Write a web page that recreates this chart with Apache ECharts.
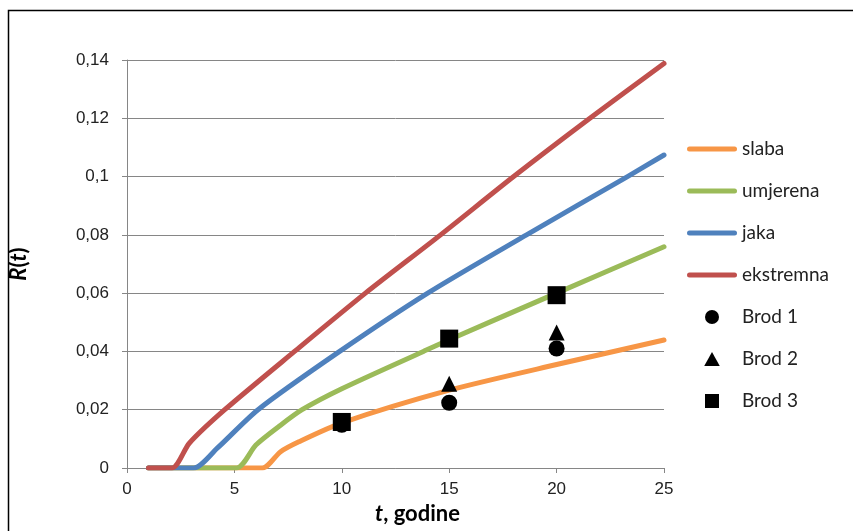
<!DOCTYPE html>
<html><head><meta charset="utf-8">
<script src="https://cdn.jsdelivr.net/npm/echarts@6/dist/echarts.min.js"></script>
<style>html,body{margin:0;padding:0;background:#fff;}#c{width:853px;height:531px;}</style>
</head><body><div id="c"></div>
<script>
// Curves (t in years, R(t))
const tSlaba = [1, 6.3, 7.15, 8, 10, 15, 20, 25];
const rSlaba = [0, 0, 0.0056, 0.009, 0.0155, 0.0267, 0.0355, 0.0439];
const tUmjerena = [1, 5.1, 6.0, 7.15, 8.15, 10, 13.8, 15, 20, 25];
const rUmjerena = [0, 0, 0.0079, 0.0147, 0.02, 0.0272, 0.04, 0.044, 0.06, 0.0759];
const tJaka = [1, 3.1, 4.2, 6.1, 9.9, 14.0, 18.6, 23.3, 25];
const rJaka = [0, 0, 0.0068, 0.02, 0.04, 0.06, 0.08, 0.1, 0.1074];
const tEkstremna = [1, 2.1, 2.9, 4.55, 7.8, 11.1, 14.6, 18.0, 21.55, 25];
const rEkstremna = [0, 0, 0.0085, 0.02, 0.04, 0.06, 0.08, 0.1, 0.12, 0.1388];
// Measurements
const tBrod = [10, 15, 20];
const rBrod1 = [0.0148, 0.0224, 0.041];
const rBrod2 = [0.0155, 0.0289, 0.0465];
const rBrod3 = [0.0158, 0.0444, 0.0593];
// Axes
const yMin = 0, yMax = 0.14, yStep = 0.02;
const xMin = 0, xMax = 25, xStep = 5;

const pair = (t, r) => t.map((v, i) => [v, r[i]]);
const chart = echarts.init(document.getElementById('c'));
const gridCol = '#868686';
const lineIcon = 'path://M2.5,0h45a2.5,2.5 0 0 1 0,5h-45a2.5,2.5 0 0 1 0,-5z';
const lineSeries = (name, t, r, color) => ({
  name, type: 'line', data: pair(t, r), symbol: 'none', smooth: 0.25,
  lineStyle: { color, width: 5, cap: 'round', join: 'round' }, itemStyle: { color },
  z: 2
});
const scatterSeries = (name, r, symbol, size) => ({
  name, type: 'scatter', data: pair(tBrod, r), symbol, symbolSize: size,
  itemStyle: { color: '#000', opacity: 1 }, z: 5
});
const titleRich = {
  i: { fontFamily: 'Lato, sans-serif', fontSize: 22, fontWeight: 'bold', fontStyle: 'italic', color: '#000' },
  b: { fontFamily: 'Lato, sans-serif', fontSize: 22, fontWeight: 'bold', color: '#000' }
};
chart.setOption({
  animation: false,
  graphic: [{ type: 'rect', shape: { x: 8.5, y: 10.5, width: 1000, height: 1000 },
    style: { fill: 'none', stroke: '#000', lineWidth: 1.5 }, silent: true }],
  grid: { left: 126, right: 189, top: 60, bottom: 63 },
  legend: {
    orient: 'vertical', left: 682, top: 134, itemWidth: 50, itemHeight: 14, itemGap: 22,
    symbolKeepAspect: true,
    textStyle: { fontFamily: 'Lato, "Open Sans", sans-serif', fontSize: 19, color: '#222', lineHeight: 20 },
    data: [
      { name: 'slaba', icon: lineIcon }, { name: 'umjerena', icon: lineIcon },
      { name: 'jaka', icon: lineIcon }, { name: 'ekstremna', icon: lineIcon },
      { name: 'Brod 1', icon: 'circle', itemStyle: { color: '#000' } },
      { name: 'Brod 2', icon: 'path://M5,0L10,9L0,9z', itemStyle: { color: '#000' } },
      { name: 'Brod 3', icon: 'path://M0,0h10v10h-10z', itemStyle: { color: '#000' } }]
  },
  xAxis: {
    type: 'value', min: xMin, max: xMax, interval: xStep,
    name: '{i|t}{b|, godine}', nameLocation: 'middle', nameGap: 26,
    nameTextStyle: { rich: titleRich, padding: [0, 0, 0, 44] },
    axisLine: { lineStyle: { color: gridCol, width: 1 } },
    axisTick: { show: true, length: 5, lineStyle: { color: gridCol } },
    axisLabel: { fontFamily: '"Liberation Sans", Arial, sans-serif', fontSize: 17, color: '#222', margin: 13 },
    splitLine: { show: false }
  },
  yAxis: {
    type: 'value', min: yMin, max: yMax, interval: yStep,
    name: '{i|R}{b|(}{i|t}{b|)}', nameLocation: 'middle', nameGap: 97, nameRotate: 90,
    nameTextStyle: { rich: titleRich },
    axisLine: { show: true, lineStyle: { color: gridCol, width: 1 } },
    axisTick: { show: true, length: 5, lineStyle: { color: gridCol } },
    axisLabel: { fontFamily: '"Liberation Sans", Arial, sans-serif', fontSize: 17, color: '#222', margin: 18,
      formatter: v => String(Number(v.toFixed(2))).replace('.', ',') },
    splitLine: { show: true, lineStyle: { color: gridCol, width: 1 } }
  },
  series: [
    lineSeries('slaba', tSlaba, rSlaba, '#F79646'),
    lineSeries('umjerena', tUmjerena, rUmjerena, '#9BBB59'),
    lineSeries('jaka', tJaka, rJaka, '#4F81BD'),
    lineSeries('ekstremna', tEkstremna, rEkstremna, '#C0504D'),
    scatterSeries('Brod 1', rBrod1, 'circle', 16),
    scatterSeries('Brod 2', rBrod2, 'triangle', 16),
    scatterSeries('Brod 3', rBrod3, 'rect', 18)
  ]
});
</script></body></html>
